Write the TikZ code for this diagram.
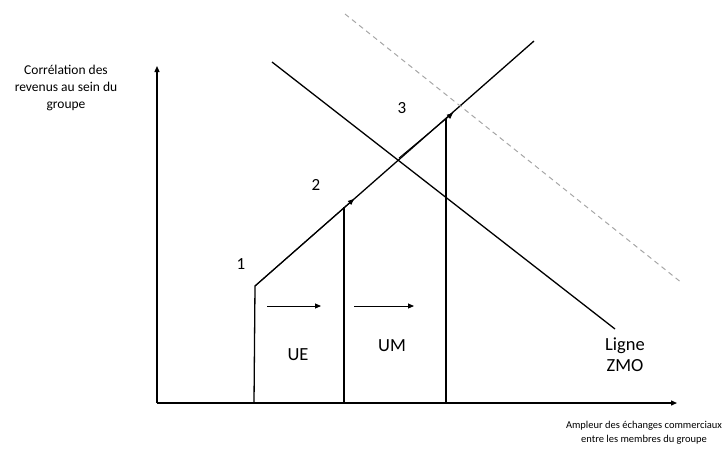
\documentclass[tikz,border=0pt]{standalone}
\usepackage{fontspec}
\setmainfont{Carlito}
\usetikzlibrary{arrows.meta}
\begin{document}
\begin{tikzpicture}[x=1pt,y=-1pt,
  axis/.style={line width=1.3pt,-{Triangle[length=6pt,width=5pt]}},
  curve/.style={line width=1.3pt},
  thin/.style={line width=0.9pt,-{Triangle[length=6pt,width=5pt]}},
  lbl/.style={font=\fontsize{17}{20}\selectfont},
  big/.style={font=\fontsize{18.5}{21}\selectfont}]
\useasboundingbox (0,0) rectangle (725,450);
% coordinates
\coordinate (O) at (157,403);
\coordinate (Ytop) at (157,66);
\coordinate (Xend) at (677,403);
\coordinate (A0) at (254,403);
\coordinate (A) at (255,286);
\coordinate (B0) at (344,403);
\coordinate (B) at (344,207);
\coordinate (C0) at (446,403);
\coordinate (C) at (446,119);
\coordinate (Ltop) at (534,41);
\coordinate (Z1) at (272,62);
\coordinate (Z2) at (615,329);
\coordinate (D1) at (345,14);
\coordinate (D2) at (682,283);
\coordinate (Bt) at (354,199);
\coordinate (Ct) at (453,113);
\coordinate (M) at (400,158);
\coordinate (h1a) at (267,306);
\coordinate (h1b) at (321,306);
\coordinate (h2a) at (354,306);
\coordinate (h2b) at (414,306);
% axes
\draw[axis] (O) -- (Ytop);
\draw[axis] (O) -- (Xend);
% main line
\draw[curve] (A0) -- (A) -- (Ltop);
\draw[curve] (B0) -- (B);
\draw[curve] (C0) -- (C);
\draw[thin] (A) -- (Bt);
\draw[thin] ([xshift=-1pt]M) -- (Ct);
% ZMO line
\draw[curve] (Z1) -- (Z2);
% dashed line
\draw[gray!70,line width=1pt,dash pattern=on 5pt off 4pt] (D1) -- (D2);
% horizontal arrows
\draw[thin] (h1a) -- (h1b);
\draw[thin] (h2a) -- (h2b);
% labels
\node[lbl] (n1) at (241,264) {1};
\node[lbl] (n2) at (316,185) {2};
\node[lbl] (n3) at (402,108) {3};
\node[big] (ue) at (298,355) {UE};
\node[big] (um) at (392,346) {UM};
\node[big,align=center] (zmo) at (625,355) {Ligne\\ZMO};
\node[align=center,font=\fontsize{13.5}{17}\selectfont] (ylab) at (66,88) {Corrélation des\\revenus au sein du\\groupe};
\node[align=center,font=\fontsize{10.5}{14}\selectfont,inner sep=0pt] (xlab) at (644,433) {Ampleur des échanges commerciaux\\entre les membres du groupe};
\end{tikzpicture}
\end{document}
